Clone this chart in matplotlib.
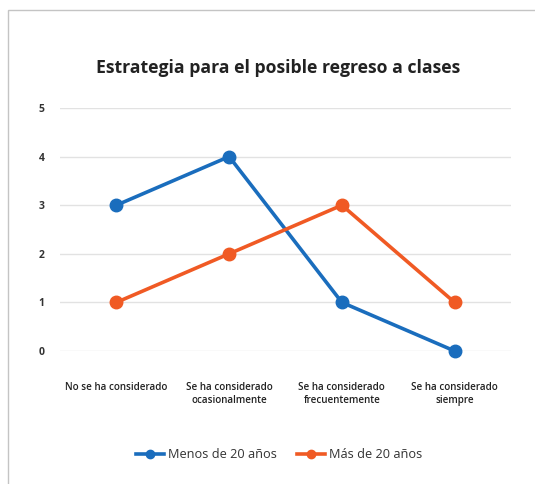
import matplotlib
matplotlib.use("Agg")
import matplotlib.pyplot as plt
from matplotlib.patches import Rectangle
from matplotlib.lines import Line2D

categories = ["No se ha considerado", "Se ha considerado\nocasionalmente",
              "Se ha considerado\nfrecuentemente", "Se ha considerado\nsiempre"]
menos_20 = [3, 4, 1, 0]
mas_20 = [1, 2, 3, 1]
series_names = ["Menos de 20 años", "Más de 20 años"]
yticks = [0, 1, 2, 3, 4, 5]

BLUE = "#1a6dbd"
ORANGE = "#f05a24"

plt.rcParams['font.family'] = ['Open Sans', 'DejaVu Sans']

fig = plt.figure(figsize=(5.35, 4.84), dpi=100)
fig.patch.set_facecolor("white")
# outer frame (left and top visible)
fig.patches.append(Rectangle((8/535, -0.1), 1.2, 1 - 10/484 + 0.1, transform=fig.transFigure,
                             fill=False, edgecolor="#c4c4c4", linewidth=1.0))

ax = fig.add_axes([60/535, 133/484, 451/535, 243/484])
x = list(range(len(categories)))
ax.plot(x, menos_20, color=BLUE, linewidth=2.6, marker='o', markersize=9, clip_on=False, zorder=3)
ax.plot(x, mas_20, color=ORANGE, linewidth=2.6, marker='o', markersize=9, clip_on=False, zorder=3)

ax.set_xlim(-0.5, 3.5)
ax.set_ylim(0, 5)
ax.set_yticks(yticks)
ax.set_yticklabels([str(v) for v in yticks], fontsize=7.5, fontweight='bold', color="#333333")
ax.set_xticks(x)
ax.set_xticklabels(categories, fontsize=7.1, fontweight='semibold', color="#222222", linespacing=1.25)
ax.tick_params(axis='y', length=0, pad=11)
ax.tick_params(axis='x', length=0, pad=22)
ax.grid(axis='y', color="#e2e2e2", linewidth=1.0)
ax.set_axisbelow(True)
for s in ax.spines.values():
    s.set_visible(False)

fig.text(278/535, 1 - 68/484, "Estrategia para el posible regreso a clases", ha='center', va='center',
         fontsize=12.7, fontweight='bold', color="#222222")

handles = [Line2D([0], [0], color=BLUE, linewidth=2.6, marker='o', markersize=6),
           Line2D([0], [0], color=ORANGE, linewidth=2.6, marker='o', markersize=6)]
fig.legend(handles, series_names, loc='center', bbox_to_anchor=(279/535, 1 - 455/484), ncol=2,
           frameon=False, fontsize=9.2, handlelength=2.2, columnspacing=1.6, handletextpad=0.3,
           labelcolor="#333333")

fig.savefig("out.png", dpi=100, facecolor="white")
